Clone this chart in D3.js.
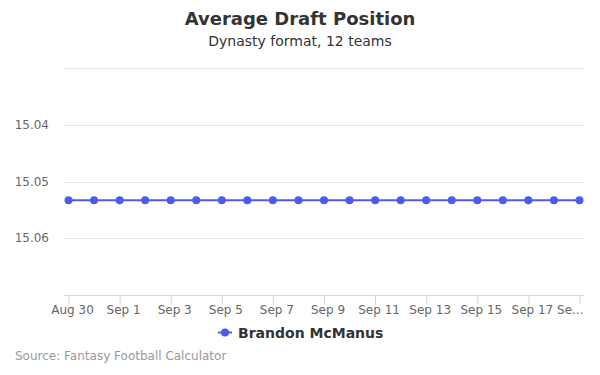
<!DOCTYPE html>
<html><head><meta charset="utf-8">
<script src="https://cdn.jsdelivr.net/npm/d3@7"></script>
<style>body{margin:0;background:#fff}svg{display:block;font-family:"DejaVu Sans",sans-serif}</style>
</head><body><svg id="c" width="600" height="375"></svg>
<script>
const categories = ["Aug 30","Aug 31","Sep 1","Sep 2","Sep 3","Sep 4","Sep 5","Sep 6","Sep 7","Sep 8","Sep 9","Sep 10","Sep 11","Sep 12","Sep 13","Sep 14","Sep 15","Sep 16","Sep 17","Sep 18","Sep 19"];
const adpValues = [15.0533,15.0533,15.0533,15.0533,15.0533,15.0533,15.0533,15.0533,15.0533,15.0533,15.0533,15.0533,15.0533,15.0533,15.0533,15.0533,15.0533,15.0533,15.0533,15.0533,15.0533];
const yTicks = [15.03,15.04,15.05,15.06,15.07];
const yLabelTicks = [15.04,15.05,15.06];
const seriesName = "Brandon McManus";

const svg = d3.select("#c");
const color = "#4b5cf0";
const plot = {left:64, right:584, top:68, bottom:295};

const x = d3.scalePoint().domain(categories).range([68.5, 579.5]);
const y = d3.scaleLinear().domain([15.03, 15.07]).range([plot.top, plot.bottom]);

// title
svg.append("text").attr("x",300).attr("y",25).attr("text-anchor","middle")
  .attr("font-size",18).attr("font-weight","bold").attr("fill","#333").text("Average Draft Position");
svg.append("text").attr("x",300).attr("y",46).attr("text-anchor","middle")
  .attr("font-size",14).attr("fill","#333").text("Dynasty format, 12 teams");

// grid
svg.append("g").selectAll("line").data(yTicks.slice(0,-1)).join("line")
  .attr("x1",plot.left).attr("x2",plot.right)
  .attr("y1",d=>Math.round(y(d))+0.5).attr("y2",d=>Math.round(y(d))+0.5)
  .attr("stroke","#e6e6e6");

// y labels
svg.append("g").selectAll("text").data(yLabelTicks).join("text")
  .attr("x",49).attr("y",d=>y(d)+4).attr("text-anchor","end")
  .attr("font-size",12).attr("fill","#666").text(d=>d.toFixed(2));

// x axis
const xAxis = d3.axisBottom(x).tickValues(categories.filter((d,i)=>i%2===0)).tickSize(9).tickPadding(5);
const gx = svg.append("g").attr("transform",`translate(0,${plot.bottom+0.5})`).call(xAxis);
gx.select(".domain").remove();
gx.append("line").attr("x1",plot.left).attr("x2",plot.right).attr("stroke","#ccd6eb");
gx.selectAll(".tick line").attr("stroke","#ccd6eb").attr("y2",9);
gx.selectAll(".tick text").attr("font-size",12).attr("fill","#666").attr("font-family","DejaVu Sans, sans-serif")
  .attr("dy",null).attr("y",18.5).attr("dx",3.5);
const last = categories[categories.length-1];
gx.selectAll(".tick").filter(d=>d===last).select("text").each(function(){
  const t = d3.select(this);
  const tx = x(last);
  t.attr("text-anchor","end").attr("dx",583 - tx);
  let s = t.text();
  const maxW = 29;
  if (this.getComputedTextLength() > maxW) {
    while (s.length>1) {
      s = s.slice(0,-1);
      t.text(s+"...");
      if (this.getComputedTextLength() <= maxW) break;
    }
  }
});

// line
const line = d3.line().x((d,i)=>x(categories[i])).y(d=>y(d));
svg.append("path").datum(adpValues).attr("d",line).attr("fill","none").attr("stroke",color).attr("stroke-width",2);
svg.append("g").selectAll("circle").data(adpValues).join("circle")
  .attr("cx",(d,i)=>x(categories[i])).attr("cy",d=>y(d)).attr("r",4).attr("fill",color);

// legend
const lg = svg.append("g");
lg.append("line").attr("x1",218).attr("x2",232).attr("y1",332.5).attr("y2",332.5).attr("stroke",color).attr("stroke-width",2);
lg.append("circle").attr("cx",225).attr("cy",332.5).attr("r",4).attr("fill",color);
lg.append("text").attr("x",238).attr("y",337.5).attr("font-size",14).attr("font-weight","bold").attr("fill","#333").text(seriesName);

// credits
svg.append("text").attr("x",15).attr("y",360).attr("font-size",12).attr("fill","#999").text("Source: Fantasy Football Calculator");
</script></body></html>
